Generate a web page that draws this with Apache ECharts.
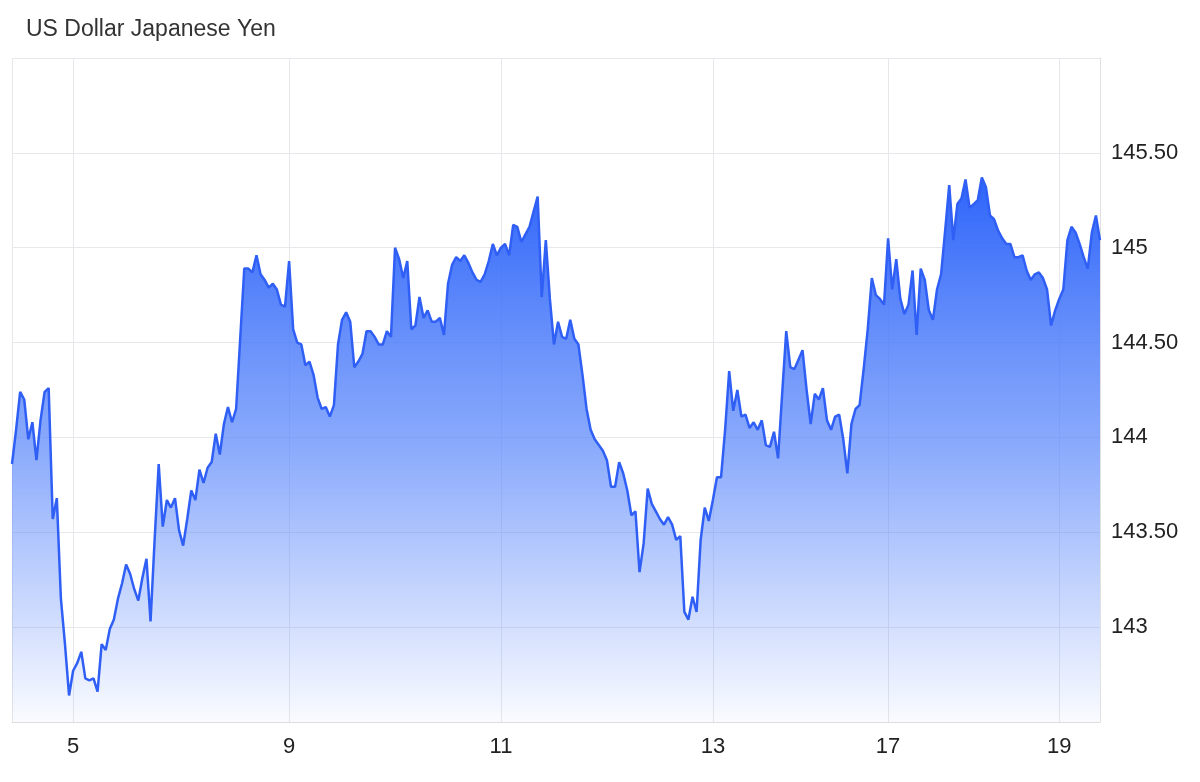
<!DOCTYPE html>
<html>
<head>
<meta charset="utf-8">
<script src="https://cdn.jsdelivr.net/npm/echarts@6/dist/echarts.min.js"></script>
<style>
html,body{margin:0;padding:0;background:#fff;}
#chart{width:1200px;height:782px;}
</style>
</head>
<body>
<div id="chart"></div>
<script>
// USD/JPY prices (about one point every few hours)
var prices = [
143.86,144.04,144.24,144.20,143.99,144.08,143.88,144.09,144.24,144.26,143.57,
143.68,143.15,142.91,142.64,142.77,142.81,142.87,142.73,142.72,142.73,142.66,142.91,142.88,142.99,143.04,143.15,
143.23,143.33,143.28,143.20,143.14,143.26,143.36,143.03,143.46,143.86,143.53,143.67,143.63,143.68,143.51,143.43,
143.57,143.72,143.67,143.83,143.76,143.84,143.87,144.02,143.91,144.07,144.16,144.08,144.15,144.52,144.89,144.89,
144.87,144.96,144.86,144.83,144.79,144.81,144.78,144.70,144.69,144.93,144.57,144.50,144.49,144.38,144.40,144.33,
144.21,144.15,144.16,144.11,144.17,144.49,144.62,144.66,144.61,144.37,144.40,144.44,144.56,144.56,144.53,144.49,
144.49,144.56,144.53,145.00,144.94,144.84,144.93,144.57,144.59,144.74,144.63,144.67,144.61,144.61,144.63,144.54,
144.81,144.91,144.95,144.93,144.96,144.92,144.87,144.83,144.82,144.86,144.93,145.02,144.96,145.00,145.02,144.96,
145.12,145.11,145.03,145.07,145.11,145.19,145.27,144.74,145.04,144.73,144.49,144.61,144.53,144.52,144.62,144.52,
144.49,144.33,144.15,144.04,143.99,143.96,143.93,143.88,143.74,143.74,143.87,143.81,143.72,143.59,143.61,143.29,
143.44,143.73,143.65,143.61,143.57,143.54,143.58,143.54,143.46,143.48,143.08,143.04,143.16,143.08,143.46,143.63,
143.56,143.67,143.79,143.79,144.04,144.35,144.14,144.25,144.11,144.12,144.05,144.08,144.04,144.09,143.96,143.95,
144.03,143.89,144.23,144.56,144.37,144.36,144.41,144.46,144.25,144.07,144.23,144.20,144.26,144.09,144.04,144.11,
144.12,143.99,143.81,144.07,144.15,144.17,144.36,144.57,144.84,144.75,144.73,144.70,145.05,144.78,144.94,144.73,
144.65,144.70,144.88,144.54,144.89,144.83,144.67,144.62,144.78,144.86,145.09,145.33,145.04,145.23,145.26,145.36,
145.21,145.23,145.25,145.37,145.32,145.17,145.15,145.09,145.05,145.02,145.02,144.95,144.95,144.96,144.88,144.83,
144.86,144.87,144.84,144.78,144.59,144.67,144.73,144.78,145.04,145.11,145.08,145.02,144.95,144.89,145.08,145.17,
145.04
];
// day labels and the point index where each day starts
var dayLabels = ['5', '9', '11', '13', '17', '19'];
var dayIndex = [15, 68, 120, 172, 215, 257];

var categories = prices.map(function (p, i) { return i; });

var myChart = echarts.init(document.getElementById('chart'));
var option = {
    animation: false,
    title: {
        text: 'US Dollar Japanese Yen',
        left: 21, top: 13,
        textStyle: {fontFamily: 'Liberation Sans', fontSize: 23, fontWeight: 'normal', color: '#333'}
    },
    grid: {left: 12, right: 100, top: 58, bottom: 60},
    xAxis: {
        type: 'category',
        data: categories,
        boundaryGap: false,
        axisLine: {lineStyle: {color: '#ddd'}},
        axisTick: {show: false},
        axisLabel: {
            interval: function (i) { return dayIndex.indexOf(i) >= 0; },
            formatter: function (v, i) { return dayLabels[dayIndex.indexOf(i)]; },
            fontFamily: 'Liberation Sans', fontSize: 22, color: '#222', margin: 14
        },
        splitLine: {
            show: true,
            interval: function (i) { return i === 0 || dayIndex.indexOf(i) >= 0; },
            lineStyle: {color: '#e8e8ec'}
        }
    },
    yAxis: {
        type: 'value',
        position: 'right',
        min: 142.5, max: 146, interval: 0.5,
        axisLine: {show: true, lineStyle: {color: '#e0e0e0'}},
        axisTick: {show: false},
        axisLabel: {
            showMinLabel: false, showMaxLabel: false,
            formatter: function (v) { return v % 1 === 0 ? String(v) : v.toFixed(2); },
            fontFamily: 'Liberation Sans', fontSize: 22, color: '#222', margin: 11
        },
        splitLine: {lineStyle: {color: '#e8e8ec'}}
    },
    series: [{
        type: 'line',
        data: prices,
        showSymbol: false,
        lineStyle: {color: '#2f5ff5', width: 2.5},
        areaStyle: {
            origin: 'start',
            opacity: 1,
            color: new echarts.graphic.LinearGradient(0, 0, 0, 1, [
                {offset: 0, color: 'rgba(45,100,250,1)'},
                {offset: 0.5, color: 'rgba(90,135,250,0.7)'},
                {offset: 1, color: 'rgba(90,135,250,0.03)'}
            ])
        }
    }]
};
myChart.setOption(option);
</script>
</body>
</html>
